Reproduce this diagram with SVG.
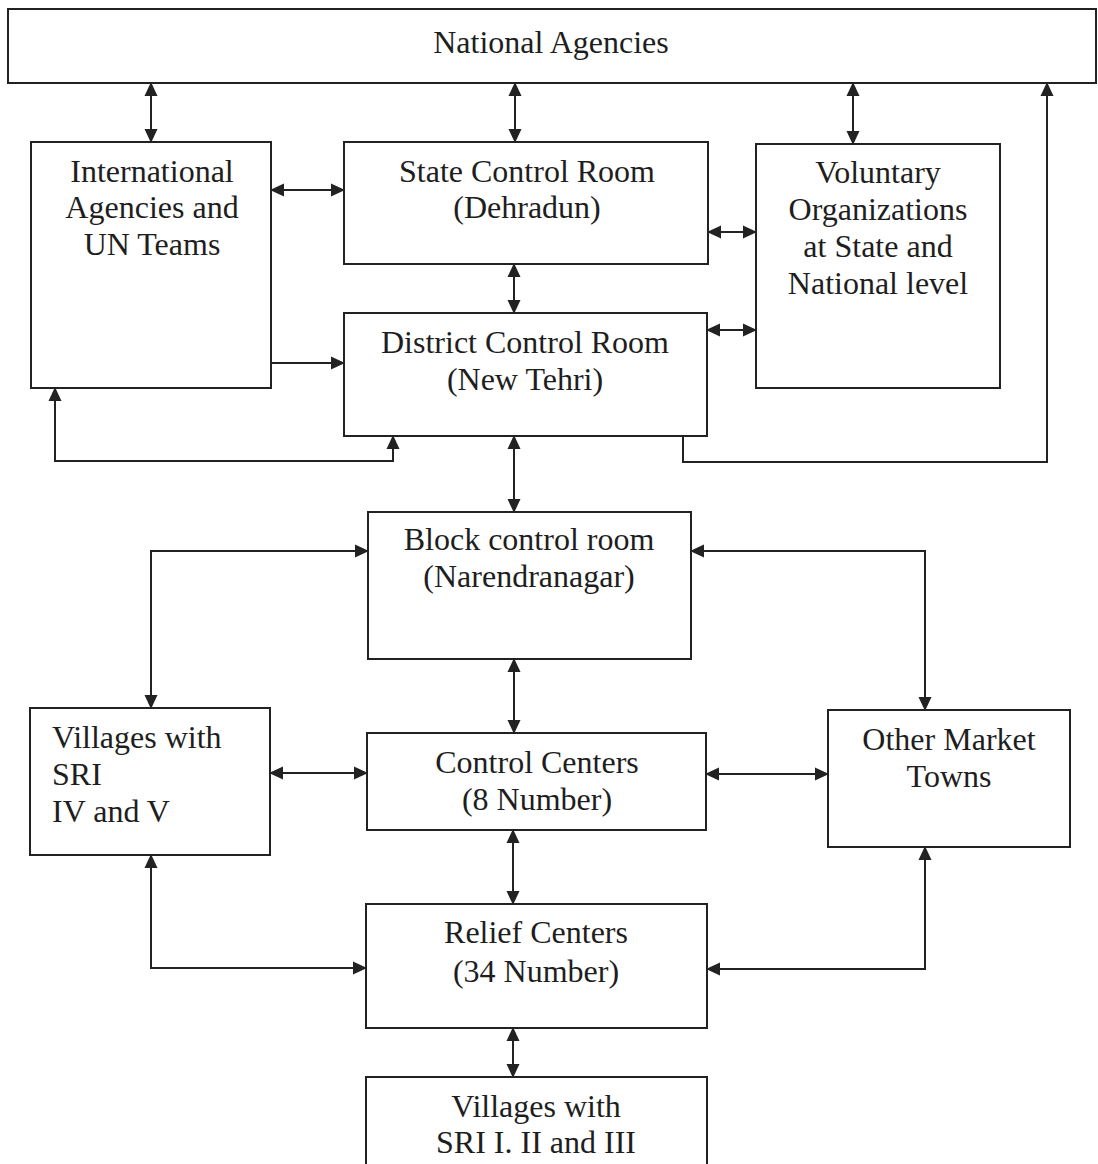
<svg xmlns="http://www.w3.org/2000/svg" width="1098" height="1164" viewBox="0 0 1098 1164">
  <style>
    .box { fill: none; stroke: #222; stroke-width: 2; }
    .lbl { font-family: "Liberation Serif", "Times New Roman", serif; font-size: 32px; fill: #1e1e1e; }
    .c { text-anchor: middle; }
    .wire { fill: none; stroke: #222; stroke-width: 2; }
    .both { marker-start: url(#head); marker-end: url(#head); }
    .end { marker-end: url(#head); }
  </style>
  <defs>
    <marker id="head" viewBox="0 0 14 14" refX="13" refY="7" markerWidth="14" markerHeight="14" markerUnits="userSpaceOnUse" orient="auto-start-reverse">
      <path d="M0,0.5 L14,7 L0,13.5 z" fill="#222"/>
    </marker>
  </defs>
  <rect width="1098" height="1164" fill="#fff"/>

  <g id="national">
    <rect class="box" x="8" y="9" width="1088" height="74"/>
    <text class="lbl c" x="551" y="53">National Agencies</text>
  </g>
  <g id="international">
    <rect class="box" x="31" y="142" width="240" height="246"/>
    <text class="lbl c" x="152" y="182">International</text>
    <text class="lbl c" x="152" y="218">Agencies and</text>
    <text class="lbl c" x="152" y="255">UN Teams</text>
  </g>
  <g id="state">
    <rect class="box" x="344" y="142" width="364" height="122"/>
    <text class="lbl c" x="527" y="182">State Control Room</text>
    <text class="lbl c" x="527" y="218">(Dehradun)</text>
  </g>
  <g id="voluntary">
    <rect class="box" x="756" y="144" width="244" height="244"/>
    <text class="lbl c" x="878" y="183">Voluntary</text>
    <text class="lbl c" x="878" y="220">Organizations</text>
    <text class="lbl c" x="878" y="257">at State and</text>
    <text class="lbl c" x="878" y="294">National level</text>
  </g>
  <g id="district">
    <rect class="box" x="344" y="313" width="363" height="123"/>
    <text class="lbl c" x="525" y="353">District Control Room</text>
    <text class="lbl c" x="525" y="390">(New Tehri)</text>
  </g>
  <g id="block">
    <rect class="box" x="368" y="512" width="323" height="147"/>
    <text class="lbl c" x="529" y="550">Block control room</text>
    <text class="lbl c" x="529" y="587">(Narendranagar)</text>
  </g>
  <g id="villages-iv-v">
    <rect class="box" x="30" y="708" width="240" height="147"/>
    <text class="lbl" x="52" y="748">Villages with</text>
    <text class="lbl" x="52" y="785">SRI</text>
    <text class="lbl" x="52" y="822">IV and V</text>
  </g>
  <g id="control-centers">
    <rect class="box" x="367" y="733" width="339" height="97"/>
    <text class="lbl c" x="537" y="773">Control Centers</text>
    <text class="lbl c" x="537" y="810">(8 Number)</text>
  </g>
  <g id="market-towns">
    <rect class="box" x="828" y="710" width="242" height="137"/>
    <text class="lbl c" x="949" y="750">Other Market</text>
    <text class="lbl c" x="949" y="787">Towns</text>
  </g>
  <g id="relief-centers">
    <rect class="box" x="366" y="904" width="341" height="124"/>
    <text class="lbl c" x="536" y="943">Relief Centers</text>
    <text class="lbl c" x="536" y="982">(34 Number)</text>
  </g>
  <g id="villages-i-iii">
    <rect class="box" x="366" y="1077" width="341" height="100"/>
    <text class="lbl c" x="536" y="1117">Villages with</text>
    <text class="lbl c" x="536" y="1153">SRI I. II and III</text>
  </g>

  <g id="connectors">
    <path class="wire both" d="M151,83 V142"/>
    <path class="wire both" d="M515,83 V142"/>
    <path class="wire both" d="M853,83 V144"/>
    <path class="wire both" d="M271,190 H344"/>
    <path class="wire both" d="M708,232 H756"/>
    <path class="wire both" d="M514,264 V313"/>
    <path class="wire both" d="M707,330 H756"/>
    <path class="wire end" d="M271,363 H344"/>
    <path class="wire both" d="M55,388 V461 H393 V436"/>
    <path class="wire end" d="M683,436 V462 H1047 V83"/>
    <path class="wire both" d="M514,436 V512"/>
    <path class="wire both" d="M368,551 H151 V708"/>
    <path class="wire both" d="M691,551 H925 V710"/>
    <path class="wire both" d="M514,659 V733"/>
    <path class="wire both" d="M270,773 H367"/>
    <path class="wire both" d="M706,774 H828"/>
    <path class="wire both" d="M513,830 V904"/>
    <path class="wire both" d="M151,855 V968 H366"/>
    <path class="wire both" d="M925,847 V969 H707"/>
    <path class="wire both" d="M513,1028 V1077"/>
  </g>
</svg>
